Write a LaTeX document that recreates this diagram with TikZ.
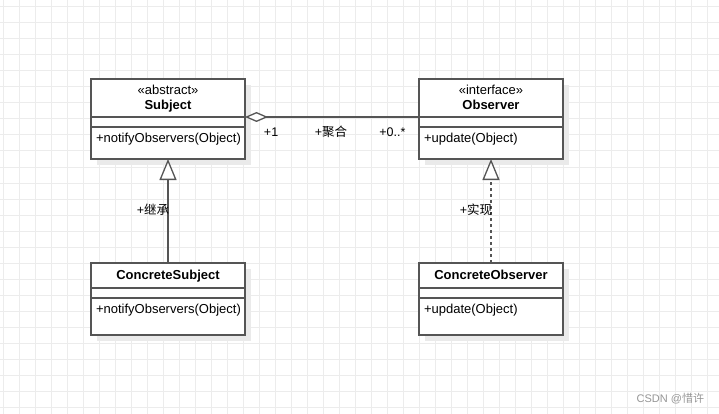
\documentclass[tikz,border=0pt]{standalone}
\usepackage{fontspec}
\setmainfont{Liberation Sans}
\newfontfamily\cjk{Noto Sans CJK SC}
\usetikzlibrary{positioning,arrows.meta,shadows}
\definecolor{umlline}{RGB}{85,85,85}
\definecolor{umlshadow}{RGB}{234,234,234}
\definecolor{gridline}{RGB}{236,236,236}
\definecolor{marktext}{RGB}{150,150,150}

\begin{document}
\begin{tikzpicture}[x=1pt, y=-1pt,
    every node/.style={outer sep=0pt, font=\fontsize{13}{15}\selectfont},
    umlpart/.style={draw=umlline, line width=1.3pt, fill=white, inner sep=0pt,
        drop shadow={shadow xshift=6pt, shadow yshift=-6pt, fill=umlshadow, opacity=1}},
    umlhead/.style={umlpart, align=center, text depth=1.4pt},
    umlattr/.style={umlpart, minimum height=10pt},
    umlops/.style={umlpart, align=left, inner xsep=5pt, inner ysep=4pt, text height=11.2pt},
    umllabel/.style={inner sep=0pt, font=\fontsize{12.5}{14}\selectfont},
    link/.style={draw=umlline, line width=1.3pt}]

    \useasboundingbox (0,0) rectangle (719,414);
    \fill[white] (0,0) rectangle (719,414);
    \foreach \gx in {3,19,...,707} \draw[gridline, line width=1pt] (\gx,0) -- (\gx,414);
    \foreach \gy in {7,23,...,407} \draw[gridline, line width=1pt] (0,\gy) -- (719,\gy);

    \node[umlhead, anchor=north west, minimum width=154pt, minimum height=38pt] (subjhead) at (91,79) {«abstract»\\\textbf{Subject}};
    \node[umlattr, minimum width=154pt, below=0pt of subjhead] (subjattr) {};
    \node[umlops, text width=144pt, text depth=12.8pt, below=0pt of subjattr] (subjops) {+notifyObservers(Object)};

    \node[umlhead, anchor=north west, minimum width=144pt, minimum height=38pt] (obshead) at (419,79) {«interface»\\\textbf{Observer}};
    \node[umlattr, minimum width=144pt, below=0pt of obshead] (obsattr) {};
    \node[umlops, text width=134pt, text depth=12.8pt, below=0pt of obsattr] (obsops) {+update(Object)};

    \node[umlhead, anchor=north west, minimum width=154pt, minimum height=25pt] (csubhead) at (91,263) {\textbf{ConcreteSubject}};
    \node[umlattr, minimum width=154pt, below=0pt of csubhead] (csubattr) {};
    \node[umlops, text width=144pt, text depth=17.8pt, below=0pt of csubattr] (csubops) {+notifyObservers(Object)};

    \node[umlhead, anchor=north west, minimum width=144pt, minimum height=25pt] (cobshead) at (419,263) {\textbf{ConcreteObserver}};
    \node[umlattr, minimum width=144pt, below=0pt of cobshead] (cobsattr) {};
    \node[umlops, text width=134pt, text depth=17.8pt, below=0pt of cobsattr] (cobsops) {+update(Object)};

    \draw[link, {Diamond[length=23pt, width=10pt, fill=white]}-] (subjhead.south east)
        -- node[umllabel, pos=0.15, anchor=base, yshift=-20pt] (aggone) {+1}
           node[umllabel, pos=0.494, anchor=base, yshift=-20pt] (aggname) {+{\cjk 聚合}}
           node[umllabel, pos=0.847, anchor=base, yshift=-20pt] (aggmany) {+0..*}
        (obshead.south west);
    \draw[link, -{Triangle[length=21pt, width=17pt, fill=white]}] (csubhead.north)
        -- node[umllabel, pos=0.465, anchor=base, xshift=-15pt] (inhname) {+{\cjk 继承}} (subjops.south);
    \draw[link, dash pattern=on 3pt off 3pt, -{Triangle[length=21pt, width=17pt, fill=white]}] (cobshead.north)
        -- node[umllabel, pos=0.465, anchor=base, xshift=-15pt] (realname) {+{\cjk 实现}} (obsops.south);

    \node[umllabel, anchor=base east, text=marktext, font=\fontsize{11}{13}\selectfont] (mark) at (704,402) {CSDN @{\cjk 惜许}};
\end{tikzpicture}
\end{document}
